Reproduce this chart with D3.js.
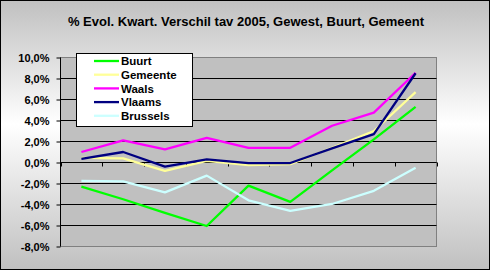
<!DOCTYPE html>
<html><head><meta charset="utf-8">
<script src="https://cdn.jsdelivr.net/npm/d3@7"></script>
<style>html,body{margin:0;padding:0;background:#fff;}svg{display:block;}</style>
</head><body>
<script>
const titleText = "% Evol. Kwart. Verschil tav 2005, Gewest, Buurt, Gemeent";
const categories = ["1","2","3","4","5","6","7","8","9"];
const seriesNames = ["Buurt","Gemeente","Waals","Vlaams","Brussels"];
const seriesColors = ["#00ff00","#ffff99","#ff00ff","#000080","#ccffff"];
const buurt    = [-2.3, -3.5, -4.8, -6.05, -2.2, -3.75, -0.75, 2.2, 5.3];
const gemeente = [0.45, 0.4, -0.8, 0.15, -0.25, -0.15, 1.4, 3.0, 6.7];
const waals    = [1.0, 2.1, 1.25, 2.35, 1.4, 1.4, 3.5, 4.75, 8.55];
const vlaams   = [0.35, 1.0, -0.4, 0.3, -0.05, -0.05, 1.35, 2.7, 8.5];
const brussels = [-1.75, -1.8, -2.85, -1.25, -3.6, -4.6, -3.95, -2.7, -0.5];
const yTicks = [-8, -6, -4, -2, 0, 2, 4, 6, 8, 10];
const seriesValues = [buurt, gemeente, waals, vlaams, brussels];

(function(){
const W = 490, H = 270;
const svg = d3.select("body").append("svg").attr("width", W).attr("height", H);
const font = "'Liberation Sans', Arial, sans-serif";

const defs = svg.append("defs");
const grad = defs.append("linearGradient").attr("id","bg").attr("x1",0).attr("y1",0).attr("x2",0).attr("y2",1);
grad.append("stop").attr("offset","0%").attr("stop-color","#c0c0c0");
grad.append("stop").attr("offset","46%").attr("stop-color","#ffffff");
grad.append("stop").attr("offset","100%").attr("stop-color","#c0c0c0");

svg.append("rect").attr("x",0.5).attr("y",0.5).attr("width",W-1).attr("height",H-1)
  .attr("fill","url(#bg)").attr("stroke","#000").attr("stroke-width",1);

svg.append("text").attr("x",246).attr("y",26).attr("text-anchor","middle")
  .attr("font-family",font).attr("font-weight","bold").attr("font-size","13px")
  .attr("fill","#000").text(titleText);

const pl = 60.5, pr = 436.5, pt = 57.5, pb = 246.5;
const x = d3.scaleBand().domain(categories).range([pl, pr]);
const y = d3.scaleLinear().domain([d3.min(yTicks), d3.max(yTicks)]).range([pb, pt]);

svg.append("rect").attr("x",pl).attr("y",pt).attr("width",pr-pl).attr("height",pb-pt)
  .attr("fill","#c0c0c0").attr("stroke","#808080").attr("stroke-width",1);

// gridlines
svg.append("g").selectAll("line").data(yTicks.filter(t => t !== d3.max(yTicks) && t !== d3.min(yTicks)))
  .join("line").attr("x1",pl).attr("x2",pr).attr("y1",d=>y(d)).attr("y2",d=>y(d))
  .attr("stroke","#000").attr("stroke-width",1);

// y axis
const yAxis = d3.axisLeft(y).tickValues(yTicks).tickSize(4).tickPadding(7)
  .tickFormat(d => d.toFixed(1).replace(".", ",") + "%");
const gy = svg.append("g").attr("transform",`translate(${pl},0)`).call(yAxis);
gy.select(".domain").attr("stroke","#000").attr("d",`M0,${pt}V${pb}`);
gy.selectAll(".tick line").attr("stroke","#000");
gy.selectAll(".tick text").attr("font-family",font).attr("font-weight","bold")
  .attr("font-size","11px").attr("fill","#000");

// x axis at zero
const gx = svg.append("g");
gx.append("line").attr("x1",pl).attr("x2",pr).attr("y1",y(0)).attr("y2",y(0)).attr("stroke","#000");
const bounds = categories.map(c => x(c)).concat([x(categories[categories.length-1]) + x.bandwidth()]);
gx.selectAll("line.tk").data(bounds).join("line").attr("class","tk")
  .attr("x1",d=>Math.round(d)+0.5).attr("x2",d=>Math.round(d)+0.5)
  .attr("y1",y(0)).attr("y2",y(0)+4).attr("stroke","#000");

// lines
const line = d3.line().x((d,i) => x(categories[i]) + x.bandwidth()/2).y(d => y(d))
  .curve(d3.curveLinear);
svg.append("g").selectAll("path").data(seriesValues).join("path")
  .attr("d", d => line(d)).attr("fill","none")
  .attr("stroke",(d,i)=>seriesColors[i]).attr("stroke-width",2.3)
  .attr("stroke-linejoin","round");

// legend
const lg = svg.append("g");
lg.append("rect").attr("x",76.5).attr("y",53.5).attr("width",116).attr("height",73)
  .attr("fill","#fff").attr("stroke","#000");
const rowY = i => 61 + i*13.7;
seriesNames.forEach((n,i) => {
  lg.append("line").attr("x1",94).attr("x2",119).attr("y1",rowY(i)).attr("y2",rowY(i))
    .attr("stroke",seriesColors[i]).attr("stroke-width",2.3);
  lg.append("text").attr("x",121).attr("y",rowY(i)).attr("dy","0.36em")
    .attr("font-family",font).attr("font-weight","bold").attr("font-size","11.5px")
    .attr("fill","#000").text(n);
});
})();
</script>
</body></html>
